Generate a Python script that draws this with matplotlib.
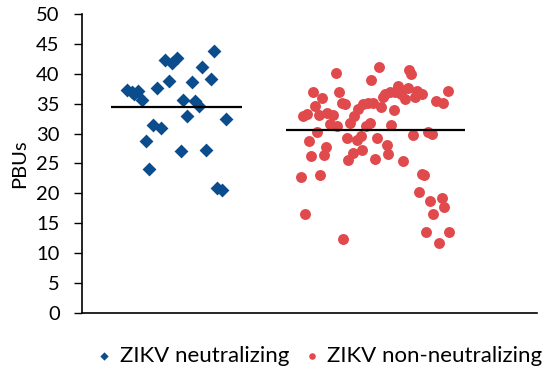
import matplotlib
matplotlib.use("Agg")
import matplotlib.pyplot as plt


# ZIKV neutralizing (x = jitter position, y = PBUs)
neut_x = [9.8, 10.9, 11.4, 12.4, 13.3, 16.5, 15.7, 17.4, 14.0, 14.8,
          18.2, 19.7, 20.8, 19.1, 22.3, 23.1, 21.7, 24.1, 24.8, 25.7,
          26.5, 29.0, 28.3, 27.2, 31.6, 29.7, 30.7]
neut_y = [37.3, 37.0, 36.7, 37.2, 35.6, 37.7, 31.4, 31.0, 28.8, 24.0,
          42.3, 41.8, 42.7, 38.8, 35.6, 32.9, 27.1, 38.7, 35.5, 34.6,
          41.1, 43.8, 39.2, 27.3, 32.4, 20.9, 20.5]

# ZIKV non-neutralizing
non_x = [48.5, 49.5, 50.8, 51.2, 52.7, 52.1, 53.9, 55.2, 54.5, 56.1,
         55.8, 56.6, 57.1, 57.8, 51.6, 50.0, 50.3, 53.6, 53.3, 48.1,
         52.4, 49.0, 57.4, 58.9, 59.8, 60.7, 61.8, 62.9, 64.0, 65.7,
         63.5, 65.2, 66.2, 66.6, 67.7, 68.8, 69.5, 70.1, 71.6, 71.1,
         71.9, 72.3, 73.6, 73.2, 74.7, 68.6, 67.9, 62.4, 63.3, 58.2,
         60.4, 61.3, 64.8, 67.0, 67.3, 61.5, 59.5, 58.5, 64.5, 70.6,
         72.8, 76.0, 77.0, 77.8, 79.4, 80.4, 74.7, 75.2, 74.1, 76.5,
         79.1, 79.7, 77.2, 75.7, 80.7, 78.5]
non_y = [32.9, 33.3, 37.0, 34.7, 36.0, 33.1, 33.4, 33.1, 31.6, 31.2,
         40.1, 36.9, 35.2, 34.9, 30.3, 28.8, 26.2, 27.8, 26.5, 22.7,
         23.1, 16.6, 12.4, 31.8, 32.9, 34.1, 34.9, 35.2, 35.1, 34.5,
         39.0, 41.2, 36.2, 36.7, 37.0, 37.0, 38.0, 36.7, 37.7, 35.8,
         40.6, 40.0, 37.2, 36.2, 36.6, 33.9, 31.4, 31.3, 31.7, 29.2,
         28.9, 29.6, 29.2, 28.1, 26.6, 27.2, 26.7, 25.6, 25.8, 25.5,
         29.7, 30.3, 29.9, 35.5, 35.1, 37.2, 23.2, 23.1, 20.2, 18.7,
         19.2, 17.7, 16.6, 13.5, 13.6, 11.7]

# group means and the span of each mean line
means = [34.5, 30.6]
mean_start = [6.4, 44.8]
mean_end = [35.1, 84.2]

labels = ["ZIKV neutralizing", "ZIKV non-neutralizing"]
yticks = list(range(0, 51, 5))

BLUE = "#0B4C8C"
RED = "#E04A4C"

plt.rcParams["font.family"] = ["Lato", "DejaVu Sans"]

fig = plt.figure(figsize=(5.5, 3.72), dpi=100)
ax = fig.add_axes([0.149, 0.159, 0.827, 0.803])

ax.scatter(neut_x, neut_y, marker="D", s=50, color=BLUE, linewidths=0,
           label=labels[0], zorder=3)
ax.scatter(non_x, non_y, marker="o", s=62, color=RED, linewidths=0,
           label=labels[1], zorder=3)

ax.hlines(means, mean_start, mean_end, colors="black", linewidth=1.6, zorder=4)

ax.set_xlim(0, 100)
ax.set_ylim(0, 50)
ax.set_yticks(yticks)
ax.set_xticks([])
ax.tick_params(axis="y", direction="out", length=6, width=1, labelsize=14.5,
               colors="black", pad=10)
ax.set_ylabel("PBUs", fontsize=14.5, labelpad=6)

ax.spines["top"].set_visible(False)
ax.spines["right"].set_visible(False)
ax.spines["left"].set_linewidth(1.2)
ax.spines["bottom"].set_linewidth(1.2)

ax.legend(loc="center", bbox_to_anchor=(0.521, -0.145), ncol=2,
          frameon=False, fontsize=16, handlelength=0.8, handletextpad=0.3,
          columnspacing=0.6, markerscale=0.6, borderpad=0, borderaxespad=0)

fig.savefig("out.png", dpi=100)
